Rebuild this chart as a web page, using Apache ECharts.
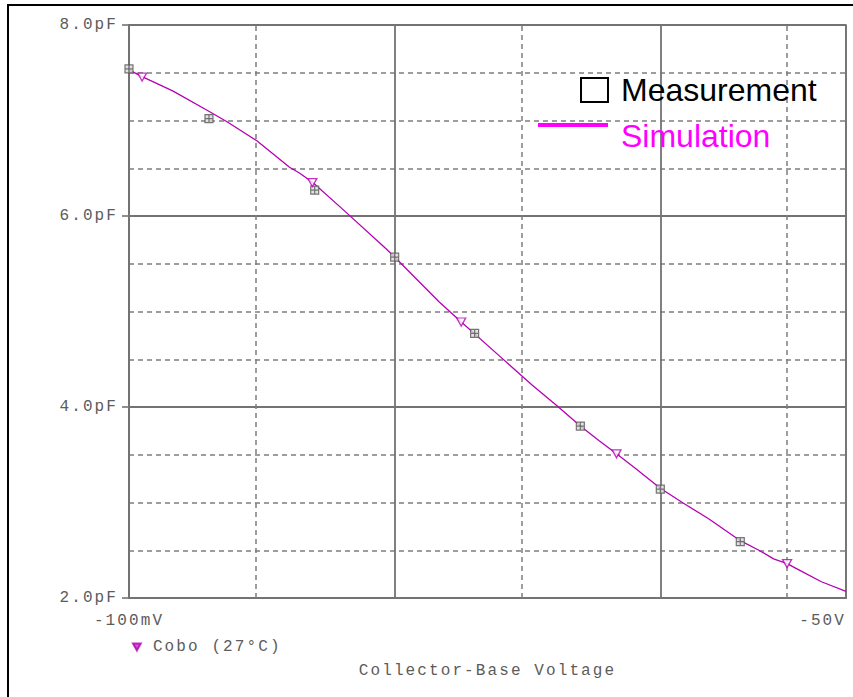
<!DOCTYPE html>
<html>
<head>
<meta charset="utf-8">
<script src="https://cdn.jsdelivr.net/npm/echarts@6/dist/echarts.min.js"></script>
<style>
html,body{margin:0;padding:0;background:#fff;}
#c{width:853px;height:697px;}
</style>
</head>
<body>
<div id="c"></div>
<script>
// Simulated trace (collector-base voltage magnitude in V, capacitance in pF)
const simVoltage = [0.1, 0.112, 0.146, 0.196, 0.233, 0.302, 0.402, 0.438, 0.492, 0.632, 0.926, 1.0, 1.169, 1.472, 1.782, 2.49, 3.29, 4.135, 5.0, 5.87, 6.84, 7.96, 10, 12.1, 15.2, 20, 23.5, 26.7, 30, 33.5, 40.4, 50];
const simCap     = [7.53, 7.46, 7.31, 7.11, 6.99, 6.79, 6.51, 6.45, 6.35, 6.08, 5.66, 5.57, 5.38, 5.10, 4.89, 4.53, 4.23, 4.00, 3.80, 3.65, 3.51, 3.37, 3.15, 3.00, 2.83, 2.60, 2.50, 2.41, 2.36, 2.29, 2.17, 2.07];
// Trace markers (triangles) on the simulated curve
const markVoltage = [0.112, 0.49, 1.78, 6.84, 30];
const markCap     = [7.455, 6.35, 4.89, 3.51, 2.36];
// Measurement points
const measVoltage = [0.1, 0.2, 0.5, 1, 2, 5, 10, 20];
const measCap     = [7.54, 7.02, 6.27, 5.57, 4.77, 3.80, 3.14, 2.59];
// Axis tick labels
const xLabelValues = [0.1, 50];
const xLabelTexts  = ['-100mV', '-50V'];
const xDashedGrid  = [0.3, 3, 30];
const yMin = 2, yMax = 8, yStep = 2;

const mono = '"Liberation Mono", "DejaVu Sans Mono", monospace';
const txtGray = '#5c5c5c';
const gridGray = '#737373';

const chart = echarts.init(document.getElementById('c'), null, {renderer: 'svg'});

const simData = simVoltage.map((v, i) => [v, simCap[i]]);
const markData = markVoltage.map((v, i) => [v, markCap[i]]);
const measData = measVoltage.map((v, i) => [v, measCap[i]]);

function xLabel(v) {
  for (let i = 0; i < xLabelValues.length; i++) {
    if (Math.abs(v - xLabelValues[i]) / xLabelValues[i] < 1e-6) return xLabelTexts[i];
  }
  return '';
}

chart.setOption({
  animation: false,
  backgroundColor: '#fff',
  grid: {left: 129, top: 25, width: 717, height: 573, show: true, borderColor: gridGray, borderWidth: 1.6, backgroundColor: 'transparent'},
  xAxis: {
    type: 'log', logBase: 10, min: 0.1, max: 50,
    axisLine: {show: true, onZero: false, lineStyle: {color: gridGray, width: 2}},
    axisTick: {show: false},
    axisLabel: {
      show: true, customValues: xLabelValues, formatter: xLabel, margin: 15,
      color: txtGray, fontFamily: mono, fontSize: 16,
      alignMinLabel: 'center', alignMaxLabel: 'right', showMinLabel: true, showMaxLabel: true
    },
    splitLine: {show: true, lineStyle: {color: gridGray, width: 1.8}},
    minorTick: {show: false}, minorSplitLine: {show: false},
    name: 'Collector-Base Voltage', nameLocation: 'middle', nameGap: 65,
    nameTextStyle: {color: txtGray, fontFamily: mono, fontSize: 16}
  },
  yAxis: {
    type: 'value', min: yMin, max: yMax, interval: yStep,
    axisLine: {show: true, lineStyle: {color: gridGray, width: 2}},
    axisTick: {show: true, length: 7, lineStyle: {color: gridGray, width: 1.6}},
    axisLabel: {margin: 11, formatter: v => v.toFixed(1) + 'pF', color: txtGray, fontFamily: mono, fontSize: 16},
    splitLine: {show: true, lineStyle: {color: gridGray, width: 1.8}},
    minorTick: {show: false, splitNumber: 4},
    minorSplitLine: {show: true, lineStyle: {color: '#7d7d7d', width: 1.5, type: [5, 4]}}
  },
  legend: {
    data: [{name: 'Cobo (27°C)', icon: 'path://M0,0L10,0L5,9Z', itemStyle: {color: '#c030c0'}}],
    left: 127, top: 634, itemWidth: 8, itemHeight: 7, selectedMode: false,
    textStyle: {color: txtGray, fontFamily: mono, fontSize: 16, padding: [0, 0, 0, 7]}
  },
  series: [
    {
      name: 'Simulation', type: 'line', data: simData, showSymbol: false, symbol: 'none',
      lineStyle: {color: '#b400b4', width: 1.3}, z: 3, silent: true,
      markLine: {
        silent: true, symbol: ['none', 'none'], label: {show: false}, z: 1,
        lineStyle: {color: '#7d7d7d', width: 1.5, type: [5, 4]},
        emphasis: {disabled: true},
        data: xDashedGrid.map(v => ({xAxis: v}))
      }
    },
    {
      name: 'Cobo (27°C)', type: 'scatter', data: markData,
      symbol: 'triangle', symbolRotate: 180, symbolSize: [9, 8],
      itemStyle: {color: '#fff', borderColor: '#b400b4', borderWidth: 1.3}, z: 5
    },
    {
      name: 'Measurement', type: 'scatter', data: measData,
      symbol: 'path://M0,0L10,0L10,10L0,10Z M5,0L5,10 M0,5L10,5', symbolSize: 8,
      itemStyle: {color: '#dcdcdc', borderColor: '#555', borderWidth: 1.2}, z: 4
    }
  ],
  graphic: [
    {type: 'rect', silent: true, z: 0, shape: {x: 8, y: 5, width: 900, height: 800}, style: {fill: 'none', stroke: '#000', lineWidth: 2}},
    {type: 'rect', silent: true, z: 10, shape: {x: 581, y: 78, width: 27, height: 24}, style: {fill: 'none', stroke: '#000', lineWidth: 2}},
    {type: 'text', silent: true, z: 10, x: 621, y: 90, style: {text: 'Measurement', font: '32px "Liberation Sans", Arial, sans-serif', fill: '#000', verticalAlign: 'middle'}},
    {type: 'line', silent: true, z: 10, shape: {x1: 538, y1: 125, x2: 608, y2: 125}, style: {stroke: '#ff00ff', lineWidth: 4}},
    {type: 'text', silent: true, z: 10, x: 621, y: 136, style: {text: 'Simulation', font: '32px "Liberation Sans", Arial, sans-serif', fill: '#ff00ff', verticalAlign: 'middle'}}
  ]
});

function applySpacing() {
  document.querySelectorAll('#c svg text').forEach(t => {
    const ff = getComputedStyle(t).fontFamily || '';
    if (/Mono/i.test(ff)) t.style.letterSpacing = '2.1px';
  });
}
chart.on('finished', applySpacing);
applySpacing();
setTimeout(applySpacing, 50);
</script>
</body>
</html>
